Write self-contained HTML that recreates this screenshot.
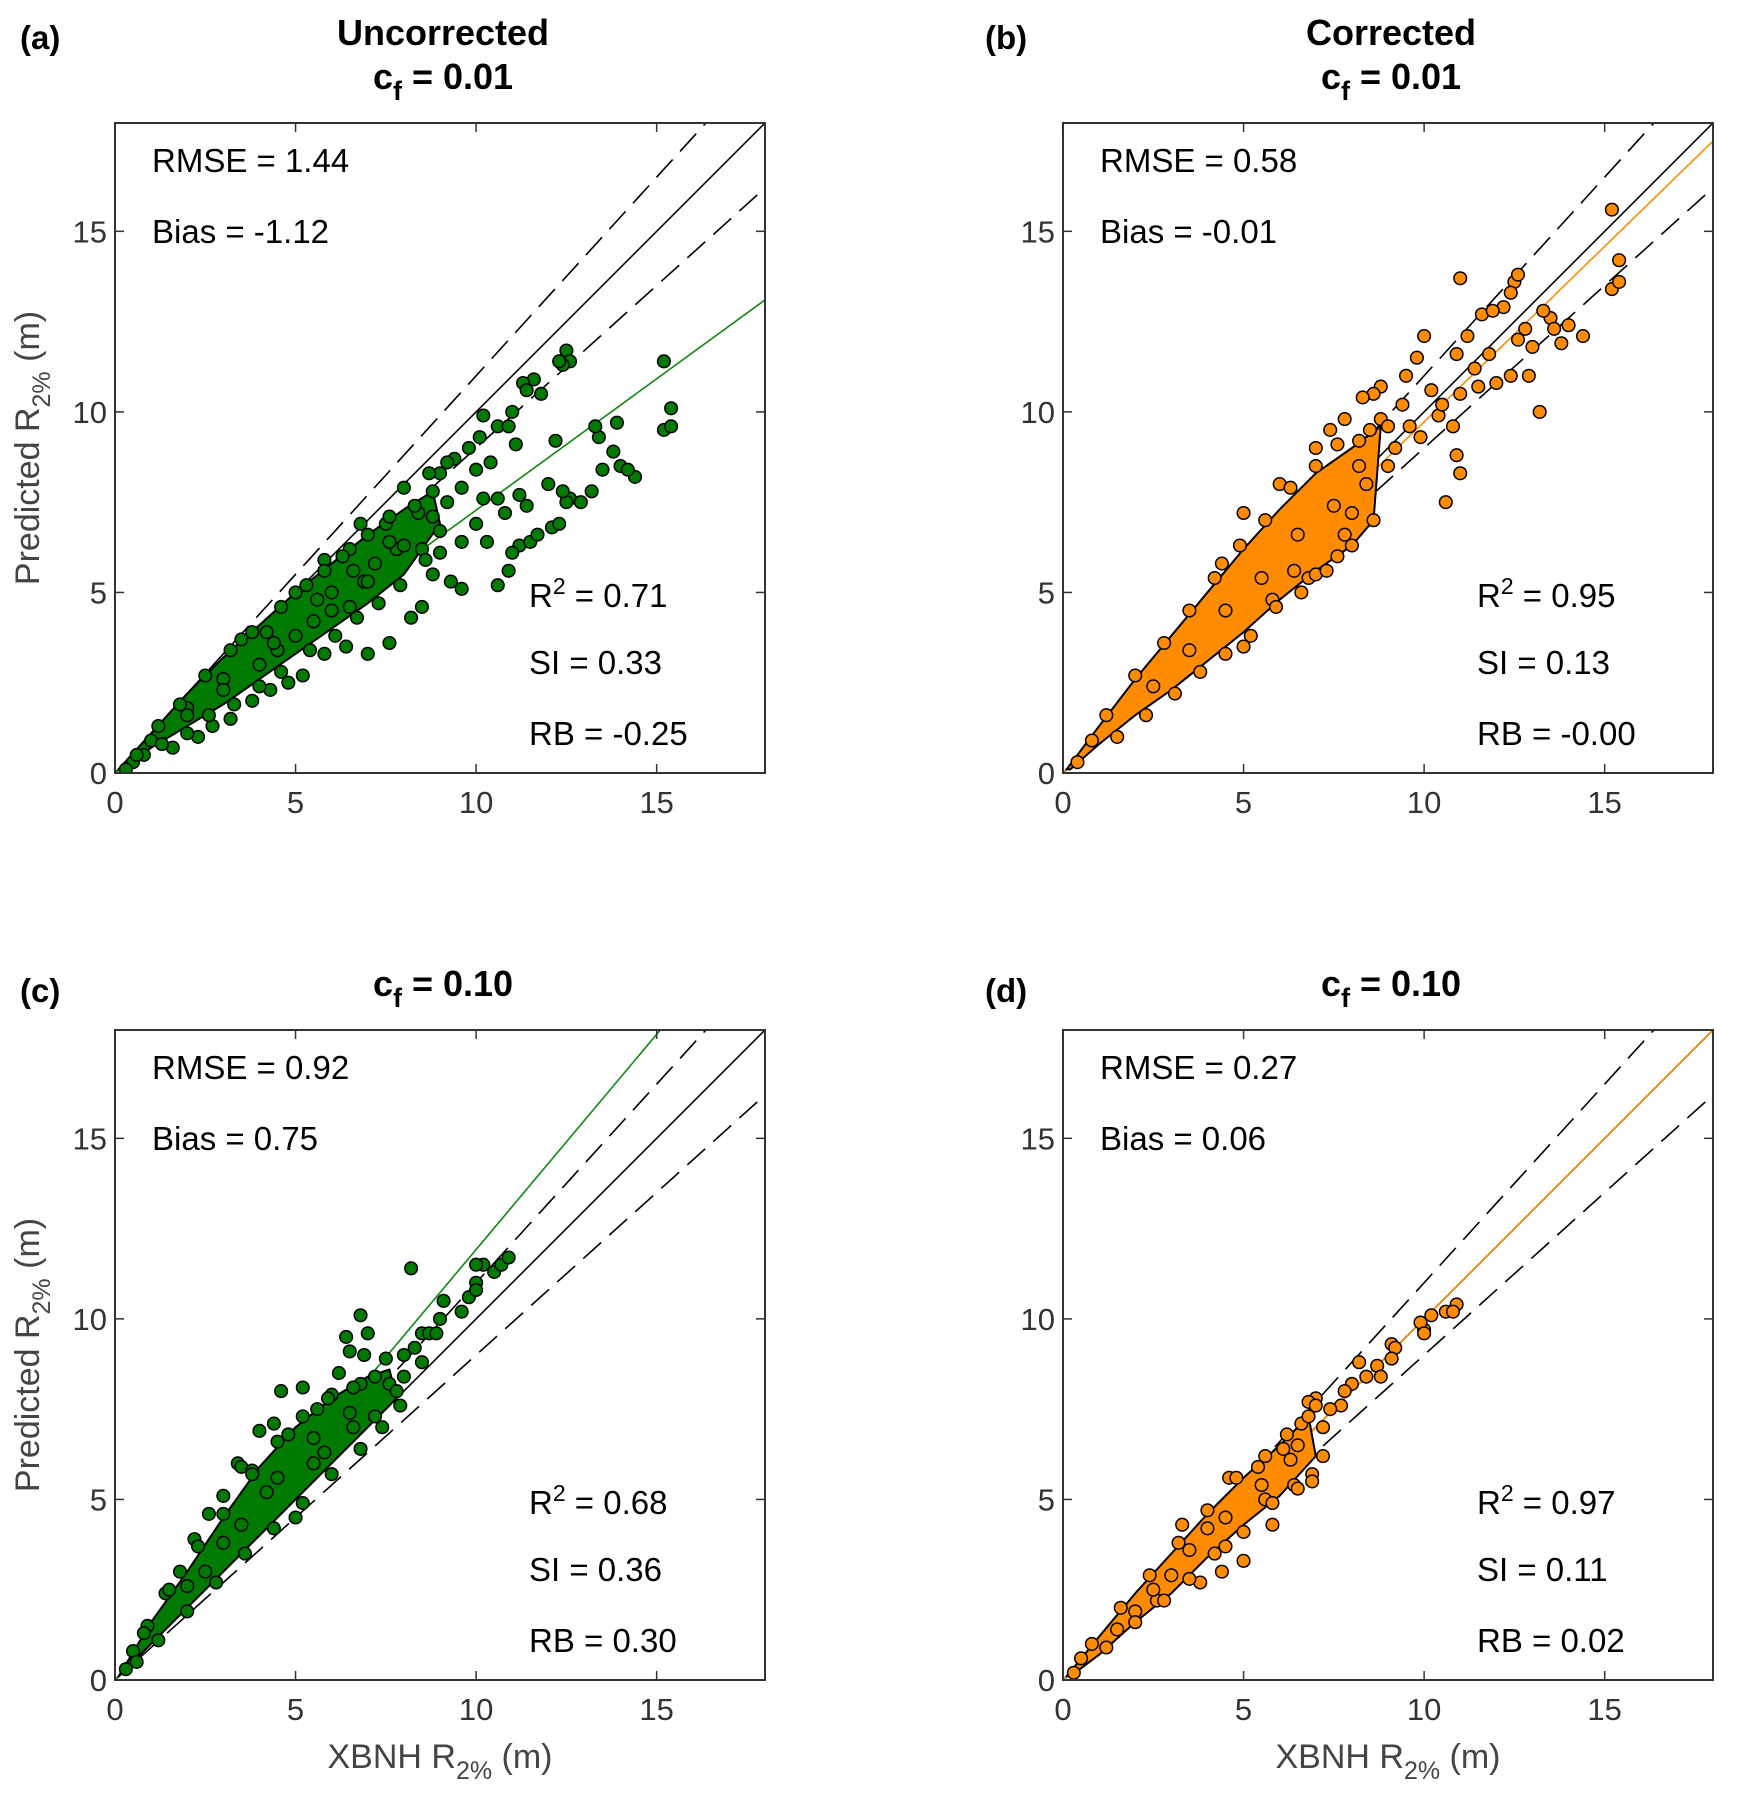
<!DOCTYPE html>
<html><head><meta charset="utf-8"><style>
body{margin:0;background:#fff}
svg{display:block;font-family:"Liberation Sans",Arial,sans-serif}
</style></head><body>
<svg id="fig" width="1737" height="1800" viewBox="0 0 1737 1800" xmlns="http://www.w3.org/2000/svg"></svg>
<script>
const xTicks=[0,5,10,15];
const yTicks=[0,5,10,15];
const axMax=18;
// panel a
const aCoreUpper=[[0.1,0.1],[1,1.1],[2,2.2],[3,3.2],[4,4.1],[5,5.0],[6,5.8],[7,6.6],[8,7.3],[8.8,7.8]];
const aCoreLower=[[9,6.9],[8,5.5],[7,4.7],[6,4.0],[5,3.3],[4,2.6],[3,1.9],[2,1.3],[1,0.7],[0.2,0.1]];
const aPts=[[8.2,4.3],[8.5,4.6],[7.6,3.6],[7.0,3.3],[9.6,5.1],[9.3,5.3],[10.6,5.2],[10.9,5.6],[11.2,6.3],[11.5,6.4],[11.7,6.6],[12.1,6.8],[12.3,6.9],[12.6,7.6],[13.2,7.8],[12.5,7.5],[13.5,8.4],[13.8,8.9],[14.0,8.5],[14.4,8.2],[14.2,8.4],[13.4,9.3],[13.3,9.6],[13.9,9.7],[12.2,9.2],[15.2,11.4],[15.2,9.5],[15.4,9.6],[15.4,10.1],[12.5,11.7],[12.6,11.4],[12.4,11.3],[12.3,11.4],[11.6,10.9],[11.3,10.8],[11.8,10.5],[11.4,10.6],[11.0,10.0],[11.1,9.1],[10.2,9.9],[10.6,9.6],[10.9,9.6],[10.1,9.3],[9.8,9.0],[9.4,8.7],[9.2,8.6],[9.0,8.3],[8.7,8.3],[10.4,8.6],[10.0,8.4],[10.2,7.6],[9.6,7.9],[10.6,7.6],[11.2,7.7],[11.4,7.4],[12.0,8.0],[12.4,7.8],[12.9,7.5],[10.8,7.2],[10.0,6.9],[10.3,6.4],[11.0,6.1],[9.6,6.4],[9.0,6.1],[8.8,5.5],[8.5,6.2],[9.2,7.5],[8.0,7.9],[8.4,7.2],[7.5,6.9],[6.8,6.9],[6.9,5.3],[6.5,4.6],[5.8,3.3],[6.4,3.5],[5.2,2.7],[4.8,2.5],[4.3,2.3],[3.8,2.0],[3.2,1.5],[2.7,1.3],[2.3,1.0],[1.6,0.7],[1.0,0.9],[0.8,0.5],[0.5,0.3],[4.2,3.9],[3.5,3.7],[5.0,5.0],[5.8,5.9],[6.5,6.2],[7.2,5.8],[5.5,4.2],[4.5,3.4],[3.0,2.6],[2.0,1.8],[6.0,5.0],[7.8,6.2],
[1.2,1.3],[1.8,1.9],[2.5,2.7],[3.2,3.4],[3.8,3.9],[4.6,4.6],[5.3,5.2],[5.8,5.6],[6.3,6.0],[7.0,6.6],[7.6,7.1],[8.3,7.4],[8.8,7.8],[1.3,0.8],[2.0,1.1],[2.6,1.6],[3.3,1.9],[4.0,2.4],[4.6,2.8],[5.4,3.4],[6.1,3.8],[6.7,4.3],[7.3,4.7],[7.9,5.2],[8.6,5.9],[9.0,6.7],[2,1.6],[3,2.3],[4,3.0],[5,3.8],[6,4.5],[7,5.3],[8,6.3],[8.8,7.1],[4.4,3.6],[5.6,4.8],[6.6,5.6],[7.6,6.4],[0.3,0.1],[0.6,0.5]];
const aFit=[[0,0],[18,13.1]];
// panel b
const bCoreUpper=[[0.1,0.1],[1,1.3],[2,2.6],[3,3.8],[4,5.0],[5,6.2],[6,7.3],[7,8.3],[8,9.0],[8.8,9.6]];
const bCoreLower=[[8.6,7.0],[8,6.3],[7,5.6],[6,4.8],[5,3.9],[4,3.1],[3,2.3],[2,1.6],[1,0.8],[0.2,0.1]];
const bPts=[[15.2,15.6],[15.4,14.2],[15.2,13.4],[15.4,13.6],[14.4,12.1],[14.0,12.4],[13.5,12.6],[13.3,12.8],[13.6,12.3],[13.0,11.8],[12.4,11.0],[12.6,12.0],[12.2,12.9],[12.5,13.6],[12.6,13.8],[12.4,13.3],[12.8,12.3],[11.6,12.7],[11.9,12.8],[11.8,11.6],[11.2,12.1],[11.0,13.7],[10.9,11.6],[11.5,10.7],[11.0,10.5],[10.8,9.6],[10.9,8.8],[11.0,8.3],[10.6,7.5],[10.4,9.9],[10.2,10.6],[10.0,12.1],[9.8,11.5],[9.5,11.0],[9.4,10.2],[9.6,9.6],[9.2,9.0],[8.8,10.7],[8.6,10.5],[8.3,10.4],[8.5,9.5],[9.0,8.5],[8.4,8.0],[7.8,9.8],[7.4,9.5],[7.0,9.0],[8.0,7.2],[7.8,6.6],[7.6,6.0],[6.4,5.6],[6.8,5.4],[5.8,4.8],[5.0,3.5],[7.0,5.5],[4.4,5.8],[5.0,7.2],[6.0,8.0],[12.0,10.8],[13.2,10.0],[11.4,11.2],[10.5,10.2],[9.9,9.3],[13.8,11.9],[12.9,11.0],
[1.2,1.6],[2,2.7],[2.8,3.6],[3.5,4.5],[4.2,5.4],[4.9,6.3],[5.6,7.0],[6.3,7.9],[7.0,8.5],[7.6,9.1],[8.2,9.2],[8.8,9.8],[1.5,1.0],[2.3,1.6],[3.1,2.2],[3.8,2.8],[4.5,3.3],[5.2,3.8],[5.9,4.6],[6.6,5.0],[7.3,5.6],[8.0,6.3],[8.6,7.0],[2.5,2.4],[3.5,3.4],[4.5,4.5],[5.5,5.4],[6.5,6.6],[7.5,7.4],[8.2,8.5],[9.0,9.6],[0.4,0.3],[0.8,0.9]];
const bFit=[[0,0],[18,17.5]];
// panel c
const cCoreUpper=[[0.1,0.1],[1,1.6],[2,3.0],[3,4.5],[4,5.9],[5,7.0],[6,7.8],[7,8.4],[7.6,8.6]];
const cCoreLower=[[7.8,7.8],[7,7.0],[6,6.0],[5,5.0],[4,4.0],[3,3.0],[2,2.0],[1,1.0],[0.2,0.2]];
const cPts=[[8.2,11.4],[6.8,10.1],[7.0,9.6],[6.4,9.5],[6.5,9.1],[6.9,9.0],[7.5,8.9],[8.0,9.0],[8.3,9.2],[8.5,9.6],[8.7,9.6],[9.0,10.0],[9.1,10.5],[8.9,9.6],[9.6,10.2],[9.8,10.6],[10.0,11.0],[10.0,10.8],[10.2,11.5],[10.5,11.3],[10.7,11.5],[10.9,11.7],[10.0,11.5],[8.5,8.8],[8.0,8.4],[7.6,8.2],[7.2,7.3],[6.0,7.9],[5.2,8.1],[4.6,8.0],[4.4,7.1],[4.0,6.9],[3.4,6.0],[3.5,5.9],[3.8,5.8],[5.0,4.5],[5.5,6.0],[5.8,6.3],[6.6,7.0],[3.0,5.1],[2.6,4.6],[2.2,3.9],[1.8,3.0],[1.4,2.4],[0.9,1.5],[0.5,0.8],[4.8,6.8],[6.2,8.5],[5.6,7.5],[4.2,5.2],[3.0,3.8],[2.0,2.6],[6.8,8.2],[7.8,8.0],
[0.8,1.3],[1.5,2.5],[2.3,3.7],[3.0,4.6],[3.8,5.7],[4.5,6.6],[5.2,7.3],[5.9,7.8],[6.6,8.1],[7.2,8.4],[1.2,1.1],[2,1.9],[2.8,2.7],[3.6,3.5],[4.4,4.2],[5.2,4.9],[6.0,5.7],[6.8,6.4],[7.4,7.0],[7.9,7.6],[2.5,3.0],[3.5,4.3],[4.5,5.6],[5.5,6.7],[6.5,7.4],[0.3,0.3],[0.6,0.5]];
const cFit=[[0,0],[15.1,18]];
// panel d
const dCoreUpper=[[0.1,0.1],[1,1.2],[2,2.4],[3,3.5],[4,4.6],[5,5.6],[6,6.5],[6.8,7.3]];
const dCoreLower=[[7.0,6.2],[6,5.1],[5,4.3],[4,3.4],[3,2.4],[2,1.6],[1,0.7],[0.2,0.1]];
const dPts=[[10.9,10.4],[10.6,10.2],[10.8,10.2],[10.2,10.1],[10.0,9.7],[9.9,9.9],[10.0,9.6],[9.1,9.3],[9.2,9.2],[9.1,8.9],[8.2,8.8],[8.7,8.7],[8.8,8.4],[8.4,8.4],[8.0,8.2],[7.8,8.0],[7.7,7.6],[7.4,7.5],[7.0,7.8],[6.8,7.7],[7.0,7.6],[6.6,7.1],[6.9,5.7],[6.9,5.5],[6.4,5.4],[5.8,4.3],[5.0,3.3],[4.5,3.7],[4.6,5.6],[3.3,4.3],[6.1,6.4],[5.4,5.9],[3.8,2.7],[4.4,3.0],[2.0,1.9],[2.6,2.2],[6.3,6.1],[7.2,7.0],[5.6,5.0],[4.0,4.2],[3.0,2.9],[1.5,1.4],
[0.8,1.0],[1.6,2.0],[2.4,2.9],[3.2,3.8],[4.0,4.7],[4.8,5.6],[5.6,6.2],[6.2,6.8],[6.8,7.3],[1.2,0.9],[2.0,1.6],[2.8,2.2],[3.5,2.8],[4.2,3.5],[5.0,4.1],[5.8,4.9],[6.5,5.3],[7.2,6.2],[2.5,2.5],[3.5,3.6],[4.5,4.5],[5.5,5.4],[6.5,6.5],[0.3,0.2],[0.5,0.6]];
const dFit=[[0,0],[18,18]];

const panels=[
 {id:'a',label:'(a)',lx:20,title:['Uncorrected','0.01'],x0:115,y0:123,core:[aCoreUpper,aCoreLower],pts:aPts,fit:aFit,col:'#007a00',fitCol:'#118811',stats:['RMSE = 1.44','Bias = -1.12','0.71','SI = 0.33','RB = -0.25'],ylab:true,xlab:false},
 {id:'b',label:'(b)',lx:985,title:['Corrected','0.01'],x0:1063,y0:123,core:[bCoreUpper,bCoreLower],pts:bPts,fit:bFit,col:'#ff8c00',fitCol:'#ff8c00',stats:['RMSE = 0.58','Bias = -0.01','0.95','SI = 0.13','RB = -0.00'],ylab:false,xlab:false},
 {id:'c',label:'(c)',lx:20,title:[null,'0.10'],x0:115,y0:1030,core:[cCoreUpper,cCoreLower],pts:cPts,fit:cFit,col:'#007a00',fitCol:'#118811',stats:['RMSE = 0.92','Bias = 0.75','0.68','SI = 0.36','RB = 0.30'],ylab:true,xlab:true},
 {id:'d',label:'(d)',lx:985,title:[null,'0.10'],x0:1063,y0:1030,core:[dCoreUpper,dCoreLower],pts:dPts,fit:dFit,col:'#ff8c00',fitCol:'#ff8c00',stats:['RMSE = 0.27','Bias = 0.06','0.97','SI = 0.11','RB = 0.02'],ylab:false,xlab:true}
];
const S=650;
const NS='http://www.w3.org/2000/svg';
const fig=document.getElementById('fig');
function mk(tag,attrs,parent,text){const e=document.createElementNS(NS,tag);for(const k in attrs)e.setAttribute(k,attrs[k]);if(text!==undefined)e.textContent=text;parent.appendChild(e);return e;}
panels.forEach(p=>{
 const g=mk('g',{},fig);
 
 
 const sx=v=>p.x0+v/axMax*S, sy=v=>p.y0+S-v/axMax*S;
 const clip=mk('clipPath',{id:'clip'+p.id},g);mk('rect',{x:p.x0,y:p.y0,width:S,height:S},clip);
 const plot=mk('g',{'clip-path':'url(#clip'+p.id+')'},g);
 // reference lines first (points drawn on top)
 const l1=mk('line',{x1:sx(0),y1:sy(0),x2:sx(18),y2:sy(18),stroke:'#000','stroke-width':1.6},plot);
 
 
 const lu=mk('line',{x1:sx(0),y1:sy(0),x2:sx(18),y2:sy(19.8),stroke:'#000','stroke-width':1.6,'stroke-dasharray':'24 11'},plot);
 
 
 const ll=mk('line',{x1:sx(0),y1:sy(0),x2:sx(18),y2:sy(16.2),stroke:'#000','stroke-width':1.6,'stroke-dasharray':'24 11'},plot);
 
 
 const fl=mk('line',{x1:sx(p.fit[0][0]),y1:sy(p.fit[0][1]),x2:sx(p.fit[1][0]),y2:sy(p.fit[1][1]),stroke:p.fitCol,'stroke-width':1.6},plot);
 
 
 // core cloud
 const core=p.core[0].concat(p.core[1]).map(q=>sx(q[0])+','+sy(q[1])).join(' ');
 const poly=mk('polygon',{points:core,fill:p.col,stroke:'#000','stroke-width':2,'stroke-linejoin':'round'},plot);
 
 
 p.pts.forEach(q=>{
  const c=mk('circle',{cx:sx(q[0]),cy:sy(q[1]),r:6.3,fill:p.col,stroke:'#000','stroke-width':1.5},plot);
  
  
 });
 // frame
 const fr=mk('rect',{x:p.x0,y:p.y0,width:S,height:S,fill:'none',stroke:'#333','stroke-width':2},g);
 
 
 xTicks.forEach(t=>{
  mk('line',{x1:sx(t),y1:p.y0+S,x2:sx(t),y2:p.y0+S-9,stroke:'#333','stroke-width':1.5},g);
  mk('line',{x1:sx(t),y1:p.y0,x2:sx(t),y2:p.y0+9,stroke:'#333','stroke-width':1.5},g);
  const tx=mk('text',{x:sx(t),y:p.y0+S+40,'text-anchor':'middle','font-size':31,fill:'#333'},g,String(t));
  
  
 });
 yTicks.forEach(t=>{
  mk('line',{x1:p.x0,y1:sy(t),x2:p.x0+9,y2:sy(t),stroke:'#333','stroke-width':1.5},g);
  mk('line',{x1:p.x0+S,y1:sy(t),x2:p.x0+S-9,y2:sy(t),stroke:'#333','stroke-width':1.5},g);
  const ty=mk('text',{x:p.x0-8,y:sy(t)+11,'text-anchor':'end','font-size':31,fill:'#333'},g,String(t));
  
  
 });
 // stats
 const st=[[37,49,0],[37,120,1],[414,484,2],[414,551,3],[414,622,4]];
 st.forEach(s=>{
  let t;
  if(s[2]===2){t=mk('text',{x:p.x0+s[0],y:p.y0+s[1],'font-size':33,fill:'#000'},g);
   mk('tspan',{},t,'R');mk('tspan',{dy:-13,'font-size':23},t,'2');mk('tspan',{dy:13},t,' = '+p.stats[2]);}
  else t=mk('text',{x:p.x0+s[0],y:p.y0+s[1],'font-size':33,fill:'#000'},g,p.stats[s[2]]);
  
  
 });
 // panel label & title
 const lb=mk('text',{x:p.lx,y:p.y0-74+(p.title[0]?0:46),'font-size':33,'font-weight':'bold'},g,p.label);
 
 
 const cx=p.x0+S/2+3;
 if(p.title[0]){const tt=mk('text',{x:cx,y:p.y0-78,'text-anchor':'middle','font-size':36,'font-weight':'bold'},g,p.title[0]);
  
  }
 const t2=mk('text',{x:cx,y:p.y0-34,'text-anchor':'middle','font-size':36,'font-weight':'bold'},g);
 
 
 mk('tspan',{},t2,'c');mk('tspan',{dy:11,'font-size':27},t2,'f');mk('tspan',{dy:-11},t2,' = '+p.title[1]);
 if(p.ylab){const yl=mk('text',{transform:'translate('+(p.x0-76)+','+(p.y0+S/2)+') rotate(-90)','text-anchor':'middle','font-size':34,fill:'#444'},g);
  
  
  mk('tspan',{},yl,'Predicted R');mk('tspan',{dy:11,'font-size':25},yl,'2%');mk('tspan',{dy:-11},yl,' (m)');}
 if(p.xlab){const xl=mk('text',{x:p.x0+S/2,y:p.y0+S+88,'text-anchor':'middle','font-size':34,fill:'#444'},g);
  
  
  mk('tspan',{},xl,'XBNH R');mk('tspan',{dy:11,'font-size':25},xl,'2%');mk('tspan',{dy:-11},xl,' (m)');}
});
</script>
</body></html>
